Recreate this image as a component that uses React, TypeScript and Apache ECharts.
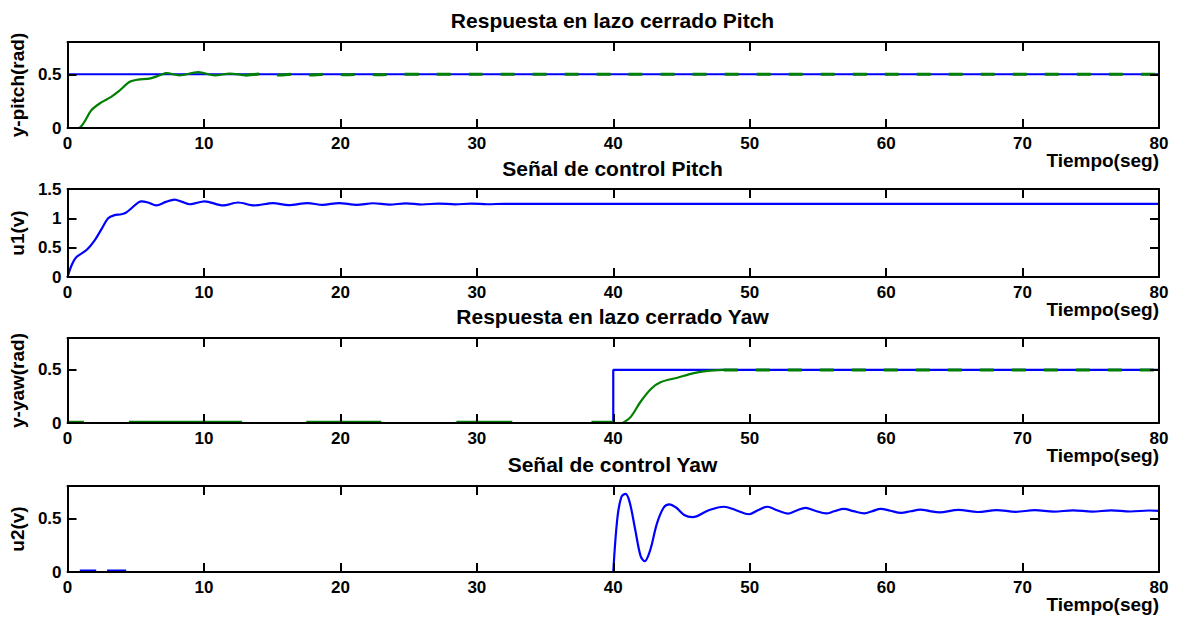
import React, { useEffect, useRef } from "react";
import * as echarts from "echarts";

// ---------- data ----------
const titles = [
  "Respuesta en lazo cerrado Pitch",
  "Señal de control Pitch",
  "Respuesta en lazo cerrado Yaw",
  "Señal de control Yaw",
];
const yNames = ["y-pitch(rad)", "u1(v)", "y-yaw(rad)", "u2(v)"];
const yMaxes = [0.8, 1.5, 0.8, 0.8];
const xLabel = "Tiempo(seg)";

// Pitch closed-loop
const pitchRef = [[0, 0.5], [80, 0.5]];
const pitchRespRise = [
  [0, 0], [0.8, 0], [1.2, 0.05], [1.76, 0.167], [2.5, 0.24], [3.2, 0.29], [3.83, 0.35],
  [4.56, 0.43], [5.17, 0.45], [6.0, 0.46], [6.76, 0.49], [7.25, 0.51], [8.2, 0.49],
  [9.57, 0.52], [10.8, 0.49], [11.9, 0.506], [13, 0.49],
];
const pitchRespSteady = [
  [13, 0.49], [14.3, 0.503], [15.5, 0.493], [16.8, 0.503], [18, 0.494], [19.2, 0.503],
  [20.4, 0.495], [21.6, 0.502], [22.8, 0.496], [24, 0.501], [26, 0.499], [30, 0.5], [80, 0.5],
];

// Pitch control
const u1 = [
  [0, 0], [0.3, 0.2], [0.66, 0.34], [1.39, 0.46], [2, 0.63], [2.5, 0.82], [2.98, 1.0],
  [3.4, 1.05], [3.95, 1.07], [4.3, 1.1], [4.68, 1.17], [5.4, 1.29], [5.9, 1.27], [6.5, 1.22],
  [7.2, 1.28], [7.85, 1.32], [8.4, 1.28], [8.96, 1.24], [10.05, 1.29], [11.4, 1.22],
  [12.5, 1.27], [13.7, 1.22], [15.06, 1.26], [16.2, 1.225], [17.6, 1.26], [18.7, 1.23],
  [19.9, 1.26], [21.2, 1.23], [22.4, 1.257], [23.6, 1.233], [24.8, 1.255], [26, 1.236],
  [27.2, 1.252], [28.4, 1.238], [29.6, 1.25], [30.8, 1.24], [32, 1.248], [34, 1.245], [80, 1.245],
];

// Yaw closed-loop
const yawRef = [[0, 0], [40, 0], [40, 0.5], [80, 0.5]];
const yawZeroSegments = [[0, 1.2], [4.5, 12.8], [17.5, 23], [28.5, 32.6], [38.4, 40]];
const yawZeroLevel = 0.012;
const yawRespRise = [
  [40.7, 0], [41.3, 0.06], [42, 0.2], [42.8, 0.324], [43.5, 0.385], [44.7, 0.426],
  [45.9, 0.469], [46.9, 0.49], [48.1, 0.5],
];
const yawRespSteady = [[48.1, 0.5], [80, 0.5]];

// Yaw control
const u2ZeroSegments = [[0.9, 2.1], [2.9, 4.3]];
const u2ZeroLevel = 0.012;
const u2 = [
  [40, 0], [40.3, 0.5], [40.6, 0.7], [40.9, 0.726], [41.2, 0.65], [41.6, 0.4], [42.0, 0.15],
  [42.3, 0.1], [42.7, 0.2], [43.2, 0.45], [43.7, 0.6], [44.1, 0.63], [44.6, 0.6], [45.2, 0.53],
  [45.8, 0.51], [47, 0.575], [48.1, 0.607], [49, 0.575], [49.95, 0.537], [50.6, 0.575],
  [51.3, 0.607], [52, 0.575], [52.8, 0.543], [53.4, 0.57], [54.1, 0.597], [54.8, 0.57],
  [55.6, 0.545], [56.2, 0.565], [56.9, 0.588], [57.6, 0.566], [58.4, 0.545], [59, 0.566],
  [59.6, 0.588], [60.3, 0.57], [61.1, 0.55], [61.8, 0.565], [62.5, 0.58], [63.2, 0.567],
  [63.9, 0.555], [65.3, 0.578], [66.7, 0.558], [68.1, 0.576], [69.5, 0.56], [70.9, 0.575],
  [72.3, 0.561], [73.7, 0.574], [75.1, 0.562], [76.5, 0.573], [77.9, 0.563], [79.3, 0.572],
  [80, 0.568],
];

// ---------- layout ----------
const PLOT_LEFT = 66;
const PLOT_WIDTH = 1093;
const gridBoxes = [
  { top: 42, height: 86 },
  { top: 189, height: 88 },
  { top: 338, height: 85 },
  { top: 486, height: 86 },
];
const titleCenters = [20, 168, 316, 464];
const BLUE = "#0000ff";
const GREEN = "#008000";
const FONT = "'Liberation Sans', Arial, sans-serif";
const TITLE_SIZE = 21;

function segmentsToData(segs: number[][], level: number) {
  const out: any[] = [];
  segs.forEach(([a, b]) => {
    out.push([a, level], [b, level], [b, "-"]);
  });
  return out;
}

export default function App() {
  const ref = useRef<HTMLDivElement>(null);

  useEffect(() => {
    if (!ref.current) return;
    const chart = echarts.init(ref.current, undefined, { renderer: "svg" });

    const axisLine = { show: true, onZero: false, lineStyle: { color: "#000", width: 2 } };
    const axisTick = { show: true, inside: true, length: 9, lineStyle: { color: "#000", width: 2 } };
    const labelStyle = {
      color: "#000",
      fontWeight: "bold" as const,
      fontSize: 17,
      fontFamily: FONT,
    };

    const grid: any[] = [];
    const xAxis: any[] = [];
    const yAxis: any[] = [];
    gridBoxes.forEach((g, i) => {
      grid.push({ left: PLOT_LEFT, top: g.top, width: PLOT_WIDTH, height: g.height, containLabel: false });
      xAxis.push({
        type: "value", gridIndex: i, position: "bottom", min: 0, max: 80, interval: 10, z: 5,
        axisLine, axisTick, splitLine: { show: false },
        axisLabel: { ...labelStyle, margin: 7 },
      });
      xAxis.push({
        type: "value", gridIndex: i, position: "top", min: 0, max: 80, interval: 10, z: 5,
        axisLine, axisTick, splitLine: { show: false }, axisLabel: { show: false },
      });
      const max = yMaxes[i];
      yAxis.push({
        type: "value", gridIndex: i, position: "left", min: 0, max, interval: 0.5, z: 5,
        axisLine, axisTick, splitLine: { show: false },
        axisLabel: {
          ...labelStyle, margin: 6, showMaxLabel: max === 1.5,
          formatter: (v: number) => (Math.abs(v / 0.5 - Math.round(v / 0.5)) < 1e-9 ? String(v) : ""),
        },
        name: yNames[i], nameLocation: "middle", nameGap: 32,
        nameTextStyle: { color: "#000", fontWeight: "bold", fontSize: 19, fontFamily: FONT },
      });
      yAxis.push({
        type: "value", gridIndex: i, position: "right", min: 0, max, interval: 0.5, z: 5,
        axisLine, axisTick, splitLine: { show: false }, axisLabel: { show: false },
      });
    });

    const line = (data: any[], idx: number, color: string, dashed = false, smooth: any = 0.3) => ({
      type: "line", data, xAxisIndex: idx * 2, yAxisIndex: idx * 2, showSymbol: false, symbol: "none",
      smooth, connectNulls: false,
      lineStyle: { color, width: dashed ? 3 : 2.2, type: dashed ? [14, 18] : "solid" },
      emphasis: { disabled: true }, silent: true,
    });

    const series = [
      line(pitchRef, 0, BLUE, false, false),
      line(pitchRespRise, 0, GREEN),
      line(pitchRespSteady, 0, GREEN, true),
      line(u1, 1, BLUE),
      line(yawRef, 2, BLUE, false, false),
      line(segmentsToData(yawZeroSegments, yawZeroLevel), 2, GREEN, false, false),
      line(yawRespRise, 2, GREEN),
      line(yawRespSteady, 2, GREEN, true, false),
      line(segmentsToData(u2ZeroSegments, u2ZeroLevel), 3, BLUE, false, false),
      line(u2, 3, BLUE, false, 0.35),
    ];

    const title = titles.map((t, i) => ({
      text: t,
      left: PLOT_LEFT + PLOT_WIDTH / 2,
      top: titleCenters[i] - TITLE_SIZE / 2,
      padding: 0,
      textAlign: "center",
      textStyle: { color: "#000", fontWeight: "bold", fontSize: TITLE_SIZE, fontFamily: FONT },
    }));

    const graphic = gridBoxes.map((g) => ({
      type: "text",
      x: PLOT_LEFT + PLOT_WIDTH,
      y: g.top + g.height + 32,
      style: {
        text: xLabel, align: "right", verticalAlign: "middle",
        fill: "#000", font: `bold 19px ${FONT}`,
      },
    }));

    chart.setOption({
      animation: false,
      backgroundColor: "#fff",
      title,
      grid,
      xAxis,
      yAxis,
      series,
      graphic,
    });
    return () => chart.dispose();
  }, []);

  return (
    <div
      ref={ref}
      style={{ position: "absolute", left: 0, top: 0, width: 1183, height: 618, background: "#fff" }}
    />
  );
}
